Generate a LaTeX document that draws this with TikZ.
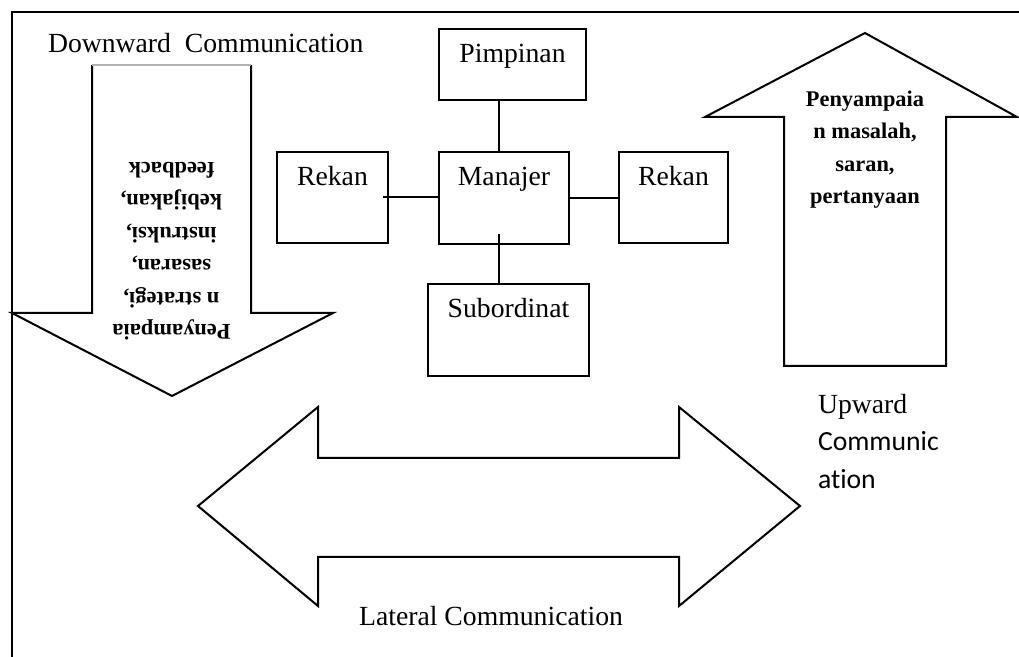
\documentclass[tikz,border=0pt]{standalone}
\usepackage{fontspec}
\setmainfont{Liberation Serif}[BoldFont={Liberation Serif Bold}]
\newfontfamily\calibri[Ligatures=NoCommon]{Carlito}
\usetikzlibrary{calc}
\begin{document}
\begin{tikzpicture}[x=0.5pt,y=-0.5pt,
  line width=1pt,
  lbl/.style={font=\fontsize{13.85pt}{18.75pt}\selectfont, inner sep=0pt},
  unit/.style={draw, lbl, anchor=base, text height=17pt},
  msg/.style={font=\bfseries\fontsize{11.2pt}{16.2pt}\selectfont,
              align=center, inner sep=0pt, anchor=north},
  ]
\useasboundingbox (0,0) rectangle (1019,657);

% outer frame (top and left edges)
\draw (1019,12) -- (12,12) -- (12,657);

% downward arrow
\draw[line cap=square] (92,65) -- (92,313) -- (12,313) -- (172,396) -- (333,313) -- (251,313) -- (251,65);
\draw[gray!60, line width=0.7pt] (92,65) -- (251,65);
\node[msg, rotate=180] (downmsg) at (171.5,341)
  {Penyampaia\\n strategi,\\sasaran,\\instruksi,\\kebijakan,\\feedback};
\node[lbl, anchor=base west] (downlbl) at (47,53) {Downward\ \ Communication};

% upward arrow
\draw (784,366) -- (784,117) -- (705,117) -- (865,33) -- (1017,117) -- (946,117) -- (946,366) -- cycle;
\node[msg] (upmsg) at (865,90) {Penyampaia\\n masalah,\\saran,\\pertanyaan};
\node[lbl, anchor=north west, align=left] (uplbl) at (817,393)
  {Upward\\{\calibri Communic}\\{\calibri ation}};

% lateral double arrow
\draw (198,506) -- (318,407) -- (318,458) -- (679,458) -- (679,407) -- (800,506)
  -- (679,606) -- (679,557) -- (318,557) -- (318,606) -- cycle;
\node[lbl, anchor=base] (latlbl) at (491,626) {Lateral Communication};

% organisation units
\node[unit, minimum width=73.5pt, text depth=18.5pt] (pim) at (512.5,63) {Pimpinan};
\node[unit, minimum width=55.5pt, text depth=28.5pt] (rl) at (332.5,186) {Rekan};
\node[unit, minimum width=65pt, text depth=29pt] (man) at (504,186) {Manajer};
\node[unit, minimum width=54.5pt, text depth=28.5pt] (rr) at (673.5,186) {Rekan};
\node[unit, minimum width=80.5pt, text depth=29pt] (sub) at (508.5,318) {Subordinat};

% links between units
\coordinate (mtop) at ([xshift=-2.5pt]man.north);
\coordinate (mbot) at ([xshift=-2.5pt,yshift=5.5pt]man.south);
\coordinate (rlend) at ([xshift=-3pt]rl.east);
\coordinate (mright) at ([xshift=-1pt]man.east);
\draw (mtop) -- (mtop |- pim.south);
\draw (mbot) -- (mbot |- sub.north);
\draw (rlend) -- (rlend -| man.west);
\draw (mright) -- (mright -| rr.west);
\end{tikzpicture}
\end{document}
